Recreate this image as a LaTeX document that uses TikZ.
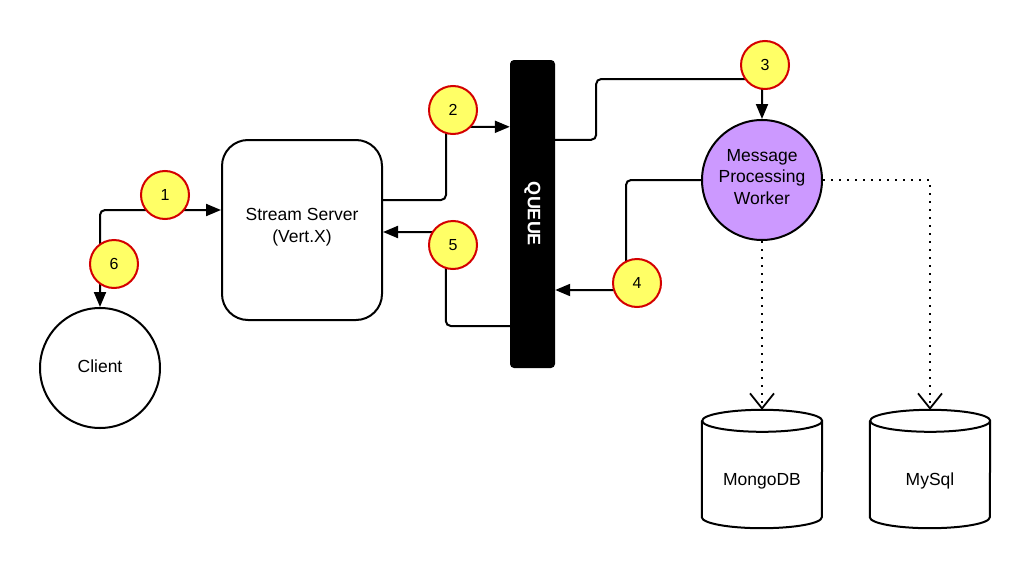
\documentclass[tikz,border=0pt]{standalone}
\usepackage{fontspec}
\setmainfont{Liberation Sans}
\usetikzlibrary{arrows.meta}
\definecolor{badgefill}{HTML}{FFFF66}
\definecolor{badgeline}{HTML}{D40000}
\definecolor{workerfill}{HTML}{CC99FF}
\begin{document}
\begin{tikzpicture}[x=1pt,y=-1pt,
  txt/.style={font=\fontsize{17.5}{21.5}\selectfont, align=center},
  shapeline/.style={draw=black, line width=2pt},
  conn/.style={draw=black, line width=2pt, rounded corners=5pt},
  tip/.style={-{Triangle[length=15pt,width=12pt]}},
  dots/.style={draw=black, line width=2pt, dash pattern=on 2pt off 6pt,
     -{Straight Barb[length=15pt,width=24pt,line width=1.8pt]}},
  badge/.style={circle, draw=badgeline, fill=badgefill, line width=2pt,
     minimum size=48pt, inner sep=0pt, font=\fontsize{16}{18}\selectfont},
  cylbox/.style={rectangle, minimum width=120pt, minimum height=118pt, inner sep=0pt}
]
\useasboundingbox (0,0) rectangle (1030,570);
\fill[white] (0,0) rectangle (1030,570);

% main shapes
\node[circle, shapeline, fill=white, minimum size=120pt, inner sep=0pt] (client) at (100,368) {};
\node[txt] (clienttext) at (100,366) {Client};
\node[rectangle, rounded corners=26pt, shapeline, fill=white, minimum width=160pt, minimum height=180pt, inner sep=0pt] (server) at (302,230) {};
\node[txt] (servertext) at (302,227) {Stream Server\\(Vert.X)};
\node[rectangle, rounded corners=4pt, fill=black, minimum width=45pt, minimum height=308pt, inner sep=0pt] (queue) at (532.5,214) {};
\node[rotate=-90, text=white, font=\bfseries\fontsize{18}{20}\selectfont] (queuetext) at (queue.center) {QUEUE};
\node[circle, shapeline, fill=workerfill, minimum size=120pt, inner sep=0pt] (worker) at (762,180) {};
\node[txt] (workertext) at (762,177) {Message\\Processing\\Worker};

% cylinders
\node[cylbox] (mongo) at (762,469) {};
\node[cylbox] (mysql) at (930,469) {};
\foreach \c in {mongo,mysql}{
  \filldraw[fill=white, draw=black, line width=2pt]
    ([yshift=-11pt]\c.north west) -- ([yshift=11pt]\c.south west)
    arc[start angle=180, end angle=360, x radius=60pt, y radius=11pt]
    -- ([yshift=-11pt]\c.north east)
    arc[start angle=0, end angle=180, x radius=60pt, y radius=11pt]
    arc[start angle=180, end angle=360, x radius=60pt, y radius=11pt];
}
\node[txt] (mongotext) at ([yshift=-12pt]mongo.center) {MongoDB};
\node[txt] (mysqltext) at ([yshift=-12pt]mysql.center) {MySql};

% connectors
\draw[conn, {Triangle[length=15pt,width=12pt]}-{Triangle[length=15pt,width=12pt]}]
  (client.north) |- ([yshift=20pt]server.west);
\draw[conn, tip] ([yshift=30pt]server.east) -- ++(63,0) |- ([yshift=-67pt]queue.north west);
\draw[conn, tip] ([yshift=-80pt]queue.north east) -- ++(41,0) |- ([yshift=40pt]worker.north) -- (worker.north);
\draw[conn, tip] (worker.west) -- ++(-75,0) |- ([yshift=-76pt]queue.east);
\draw[conn, tip] ([yshift=-112pt]queue.west) -- ++(-64,0) |- ([yshift=-2pt]server.east);
\draw[dots] (worker.south) -- (mongo.north);
\draw[dots] (worker.east) -| (mysql.north);

% badges
\node[badge] (b1) at (165,195) {1};
\node[badge] (b2) at (453,110) {2};
\node[badge] (b3) at (765,65) {3};
\node[badge] (b4) at (637,283) {4};
\node[badge] (b5) at (453,245) {5};
\node[badge] (b6) at (114,264) {6};
\end{tikzpicture}
\end{document}
